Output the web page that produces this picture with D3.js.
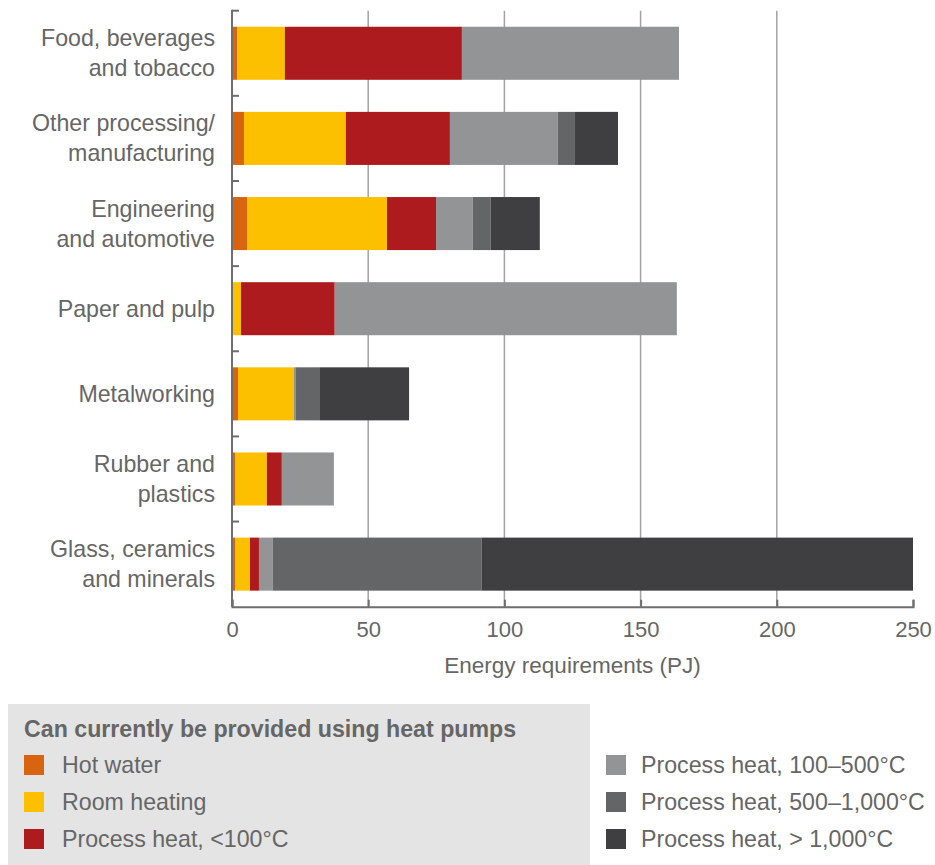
<html>
<head>
<script src="https://cdn.jsdelivr.net/npm/d3@7"></script>
<style>
  body { margin: 0; background: #fff; }
  text { font-family: "Liberation Sans", Arial, sans-serif; fill: #666; }
</style>
</head>
<body>
<svg id="chart" width="935" height="865"></svg>
<script>
// categories, top to bottom (each label split in lines)
const categories = [
  ["Food, beverages", "and tobacco"],
  ["Other processing/", "manufacturing"],
  ["Engineering", "and automotive"],
  ["Paper and pulp"],
  ["Metalworking"],
  ["Rubber and", "plastics"],
  ["Glass, ceramics", "and minerals"]
];
const seriesNames = [
  "Hot water",
  "Room heating",
  "Process heat, <100°C",
  "Process heat, 100–500°C",
  "Process heat, 500–1,000°C",
  "Process heat, > 1,000°C"
];
const seriesColors = ["#d8640f", "#fcc000", "#ae1b1e", "#939495", "#646567", "#3f3f42"];

// values in PJ, one array per series, same order as categories
const hotWater      = [2.0, 4.4, 5.5, 0, 2.2, 1.1, 1.1];
const roomHeating   = [17.4, 37.4, 51.4, 3.3, 20.5, 11.7, 5.5];
const heatBelow100  = [65.0, 38.2, 18.0, 34.4, 0, 5.5, 3.3];
const heat100to500  = [79.7, 39.6, 13.5, 125.6, 0.8, 19.1, 5.1];
const heat500to1000 = [0, 6.3, 6.6, 0, 8.8, 0, 76.7];
const heatAbove1000 = [0, 15.8, 18.0, 0, 32.7, 0, 158.3];
const xTicks = [0, 50, 100, 150, 200, 250];

const allSeries = [hotWater, roomHeating, heatBelow100, heat100to500, heat500to1000, heatAbove1000];

const rows = categories.map((c, i) => {
  const r = { key: i };
  seriesNames.forEach((s, j) => r[s] = allSeries[j][i]);
  return r;
});

const svg = d3.select("#chart");
const plotLeft = 232, plotRight = 913, plotTop = 10.7, plotBottom = 606.7;
const fontSize = 23.2;

const x = d3.scaleLinear().domain([0, 250]).range([plotLeft, plotRight]);
const y = d3.scaleBand()
  .domain(categories.map((c, i) => i))
  .range([plotTop, plotBottom])
  .paddingInner(0.377)
  .paddingOuter(0.1885);
const step = y.step();

// gridlines
svg.append("g")
  .selectAll("line")
  .data(xTicks.filter(d => d > 0 && d < 250))
  .join("line")
    .attr("x1", d => x(d)).attr("x2", d => x(d))
    .attr("y1", plotTop).attr("y2", plotBottom)
    .attr("stroke", "#a3a3a3")
    .attr("stroke-width", 1.5);

// stacked bars
const stack = d3.stack().keys(seriesNames)(rows);
svg.append("g")
  .selectAll("g")
  .data(stack)
  .join("g")
    .attr("fill", (d, i) => seriesColors[i])
  .selectAll("rect")
  .data(d => d)
  .join("rect")
    .attr("x", d => x(d[0]))
    .attr("width", d => x(d[1]) - x(d[0]))
    .attr("y", d => y(d.data.key))
    .attr("height", y.bandwidth());

// y axis line and inward ticks at band boundaries
const axisColor = "#6e6e6e";
svg.append("line")
  .attr("x1", plotLeft).attr("x2", plotLeft)
  .attr("y1", plotTop - 1).attr("y2", plotBottom)
  .attr("stroke", axisColor).attr("stroke-width", 2);
svg.append("g")
  .selectAll("line")
  .data(d3.range(categories.length))
  .join("line")
    .attr("x1", plotLeft).attr("x2", plotLeft + 7)
    .attr("y1", i => plotTop + i * step).attr("y2", i => plotTop + i * step)
    .attr("stroke", axisColor).attr("stroke-width", 2);

// x axis
const xAxis = svg.append("g")
  .attr("transform", `translate(0,${plotBottom})`)
  .call(d3.axisBottom(x).tickValues(xTicks).tickSize(-7).tickPadding(15));
xAxis.select(".domain").attr("stroke", axisColor).attr("stroke-width", 2);
xAxis.selectAll(".tick line").attr("stroke", axisColor).attr("stroke-width", 2);
xAxis.selectAll(".tick text")
  .attr("font-size", 22)
  .attr("font-family", "Liberation Sans, Arial, sans-serif")
  .attr("fill", "#666");

svg.append("text")
  .attr("x", (plotLeft + plotRight) / 2)
  .attr("y", 673)
  .attr("text-anchor", "middle")
  .attr("font-size", 22.5)
  .text("Energy requirements (PJ)");

// category labels
const labels = svg.append("g")
  .selectAll("text")
  .data(categories)
  .join("text")
    .attr("text-anchor", "end")
    .attr("font-size", fontSize)
    .attr("x", 215)
    .attr("y", (c, i) => y(i) + y.bandwidth() / 2 + 8 - (c.length - 1) * 15);
labels.selectAll("tspan")
  .data(c => c)
  .join("tspan")
    .attr("x", 215)
    .attr("dy", (d, i) => i === 0 ? 0 : 30)
    .text(d => d);

// legend
svg.append("rect")
  .attr("x", 8).attr("y", 704)
  .attr("width", 582).attr("height", 161)
  .attr("fill", "#e3e4e3");

svg.append("text")
  .attr("x", 24).attr("y", 737)
  .attr("font-size", fontSize)
  .attr("font-weight", "bold")
  .text("Can currently be provided using heat pumps");

const legendRows = [765, 802, 839];
const legend = svg.append("g")
  .selectAll("g")
  .data(seriesNames)
  .join("g")
    .attr("transform", (d, i) => `translate(${i < 3 ? 24 : 606},${legendRows[i % 3]})`);
legend.append("rect")
  .attr("x", 0).attr("y", -10)
  .attr("width", 20).attr("height", 20)
  .attr("fill", (d, i) => seriesColors[i]);
legend.append("text")
  .attr("x", (d, i) => i < 3 ? 38 : 35)
  .attr("y", 8)
  .attr("font-size", fontSize)
  .text(d => d);
</script>
</body>
</html>
